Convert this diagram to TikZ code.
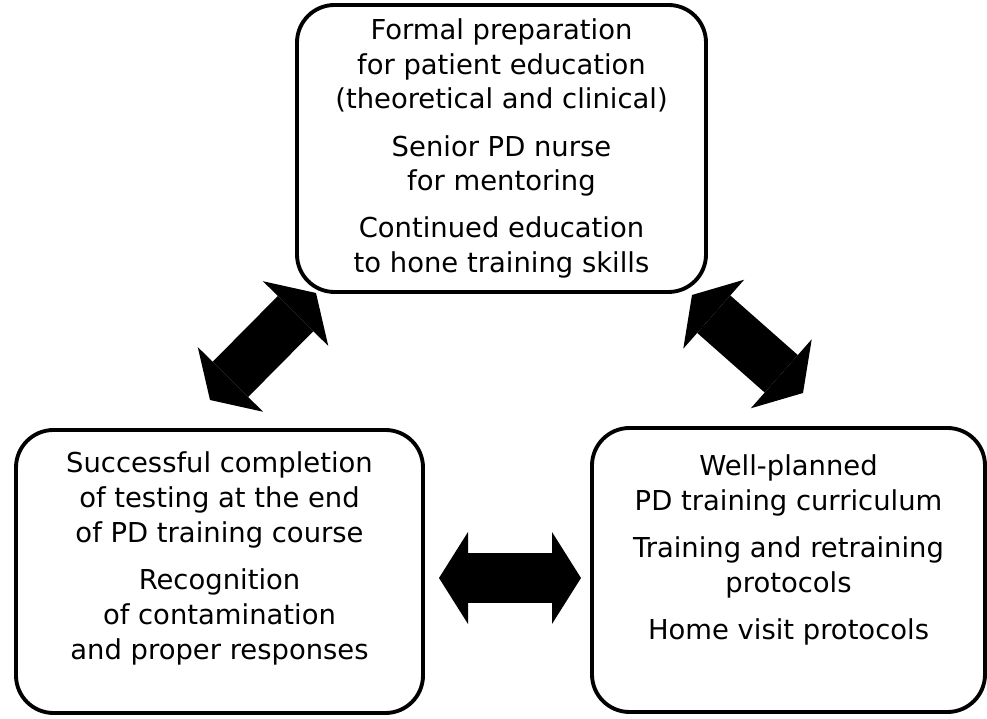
\documentclass[tikz,border=0pt]{standalone}
\usepackage{fontspec}
\setmainfont{DejaVu Sans}
\usetikzlibrary{arrows.meta}

\begin{document}
\begin{tikzpicture}[
    box/.style={draw, line width=2.2pt, rounded corners=0.75cm, inner sep=0pt},
    boxtext/.style={align=center, font=\fontsize{15.6}{19.8}\selectfont},
    fathead/.style={Triangle[length=0.58cm, width=1.84cm, line width=0pt]},
    fatarrow/.style={line width=1cm, {Triangle[length=0.58cm, width=1.84cm, line width=0pt]}-{Triangle[length=0.58cm, width=1.84cm, line width=0pt]}}
]
    \useasboundingbox (0,0) rectangle (19.74,14.38);

    % --- TOP BOX: NURSE PREPARATION ---
    \node[box, minimum width=8.18cm, minimum height=5.74cm] (nurse) at (10.03, 11.41) {};
    \node[boxtext] (nursetext) at (nurse.center) {
        Formal preparation\\
        for patient education\\
        (theoretical and clinical)\\[7pt]
        Senior PD nurse\\
        for mentoring\\[7pt]
        Continued education\\
        to hone training skills};

    % --- LEFT BOX: TESTING ---
    \node[box, minimum width=8.14cm, minimum height=5.66cm] (test) at (4.39, 2.95) {};
    \node[boxtext, yshift=0.26cm] (testtext) at (test.center) {
        Successful completion\\
        of testing at the end\\
        of PD training course\\[7pt]
        Recognition\\
        of contamination\\
        and proper responses};

    % --- RIGHT BOX: CURRICULUM ---
    \node[box, minimum width=7.86cm, minimum height=5.68cm] (plan) at (15.77, 2.98) {};
    \node[boxtext, yshift=0.4cm] (plantext) at (plan.center) {
        Well-planned\\
        PD training curriculum\\[7pt]
        Training and retraining\\
        protocols\\[7pt]
        Home visit protocols};

    % Arrow ends
    \coordinate (tl) at (4.20, 6.38);
    \coordinate (tr) at (6.32, 8.52);
    \coordinate (rl) at (13.84, 8.48);
    \coordinate (rr) at (16.06, 6.52);
    \coordinate (hl) at (8.78, 2.82);
    \coordinate (hr) at (11.62, 2.82);

    \draw[fatarrow] (tl) -- (tr);
    \draw[fatarrow] (rl) -- (rr);
    \draw[fatarrow] (hl) -- (hr);
\end{tikzpicture}
\end{document}
